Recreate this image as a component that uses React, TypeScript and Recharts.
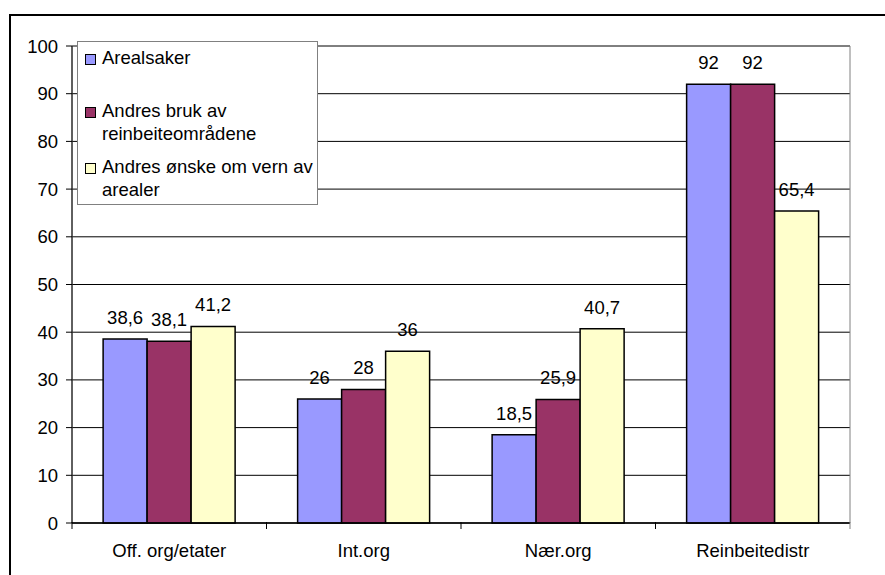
import {
  BarChart,
  Bar,
  XAxis,
  YAxis,
  CartesianGrid,
  LabelList,
  ReferenceArea,
} from "recharts";

const categories = ["Off. org/etater", "Int.org", "Nær.org", "Reinbeitedistr"];
const arealsaker = [38.6, 26, 18.5, 92];
const andresBruk = [38.1, 28, 25.9, 92];
const andresVern = [41.2, 36, 40.7, 65.4];
const yTicks = [0, 10, 20, 30, 40, 50, 60, 70, 80, 90, 100];

const seriesNames = [
  "Arealsaker",
  "Andres bruk av reinbeiteområdene",
  "Andres ønske om vern av arealer",
];
const seriesColors = ["#9999FF", "#993366", "#FFFFCC"];

const data = categories.map((name, i) => ({
  name,
  a: arealsaker[i],
  b: andresBruk[i],
  c: andresVern[i],
}));

const FONT = "'Liberation Sans', Arial, sans-serif";
const FS = 18.5;
const BAND = (850 - 72) / categories.length;

const fmt = (v: any) => String(v).replace(".", ",");

const XTick = (props: any) => {
  const { x, y, payload, index } = props;
  return (
    <g>
      <line x1={x - BAND / 2} x2={x - BAND / 2} y1={y - 9} y2={y - 2} stroke="#000" />
      {index === categories.length - 1 && (
        <line x1={x + BAND / 2} x2={x + BAND / 2} y1={y - 9} y2={y - 2} stroke="#808080" />
      )}
      <text
        x={x}
        y={y + 21}
        textAnchor="middle"
        dominantBaseline="middle"
        fontFamily={FONT}
        fontSize={FS}
        fill="#000"
      >
        {payload.value}
      </text>
    </g>
  );
};

const LegendBox = () => (
  <div
    style={{
      position: "absolute",
      left: 77,
      top: 41,
      width: 239,
      height: 162,
      border: "1px solid #808080",
      background: "#fff",
      fontFamily: FONT,
      fontSize: FS,
      lineHeight: "23px",
      color: "#000",
    }}
  >
    {seriesNames.map((n, i) => (
      <div
        key={n}
        style={{
          position: "absolute",
          left: 7,
          top: [4, 57, 113][i],
          width: 232,
          display: "flex",
          alignItems: "flex-start",
        }}
      >
        <span
          style={{
            display: "inline-block",
            width: 9,
            height: 9,
            marginTop: 8,
            marginRight: 6,
            background: seriesColors[i],
            border: "1px solid #000",
            flexShrink: 0,
          }}
        />
        <span style={{ width: i === 1 ? 180 : 220, whiteSpace: "normal" }}>{n}</span>
      </div>
    ))}
  </div>
);

export default function App() {
  return (
    <div
      style={{
        position: "absolute",
        left: 0,
        top: 0,
        width: 885,
        height: 575,
        background: "#fff",
        overflow: "hidden",
      }}
    >
      <div
        style={{
          position: "absolute",
          left: 9,
          top: 14,
          width: 900,
          height: 600,
          borderLeft: "2px solid #000",
          borderTop: "2px solid #000",
        }}
      />
      <div style={{ position: "absolute", left: 0, top: 0 }}>
        <BarChart
          width={885}
          height={575}
          data={data}
          margin={{ top: 46, right: 35, left: 0, bottom: 0 }}
          barCategoryGap="16%"
          barGap={0}
        >
          <CartesianGrid horizontal vertical={false} stroke="#000" strokeWidth={1} />
          <ReferenceArea y1={0} y2={100} stroke="#808080" fill="none" ifOverflow="visible" />
          <XAxis
            dataKey="name"
            height={52}
            axisLine={{ stroke: "#000", strokeWidth: 1.5 }}
            tickLine={false}
            tick={<XTick />}
            interval={0}
          />
          <YAxis
            width={72}
            domain={[0, 100]}
            ticks={yTicks}
            interval={0}
            axisLine={{ stroke: "#000", strokeWidth: 1 }}
            tickLine={{ stroke: "#000" }}
            tickSize={6}
            tickMargin={8}
            tick={{ fill: "#000", fontSize: FS, fontFamily: FONT }}
          />
          {["a", "b", "c"].map((k, i) => (
            <Bar
              key={k}
              dataKey={k}
              name={seriesNames[i]}
              fill={seriesColors[i]}
              stroke="#000"
              strokeWidth={1.5}
              isAnimationActive={false}
            >
              <LabelList
                dataKey={k}
                position="top"
                offset={15}
                formatter={fmt}
                fill="#000"
                fontSize={FS}
                fontFamily={FONT}
              />
            </Bar>
          ))}
        </BarChart>
      </div>
      <LegendBox />
    </div>
  );
}
